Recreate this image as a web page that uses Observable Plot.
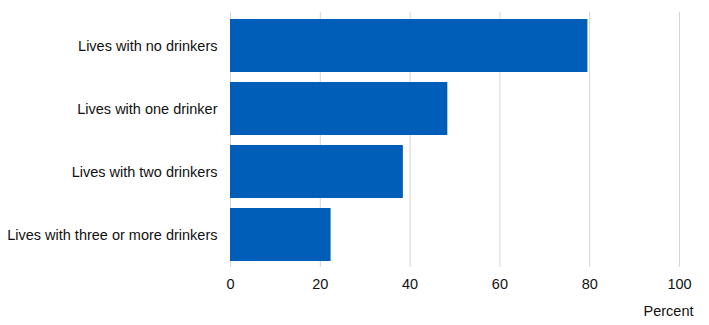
<!DOCTYPE html>
<html>
<head>
<meta charset="utf-8">
<script src="https://cdn.jsdelivr.net/npm/d3@7"></script>
<script src="https://cdn.jsdelivr.net/npm/@observablehq/plot@0.6"></script>
<style>
  html, body { margin: 0; padding: 0; background: #fff; }
  #chart svg { display: block; }
</style>
</head>
<body>
<div id="chart"></div>
<script>
const categories = [
  "Lives with no drinkers",
  "Lives with one drinker",
  "Lives with two drinkers",
  "Lives with three or more drinkers"
];
const values = [79.6, 48.4, 38.5, 22.4];
const xTicks = [0, 20, 40, 60, 80, 100];
const axisLabel = ["Percent"];

const data = categories.map((c, i) => ({category: c, value: values[i]}));

const chart = Plot.plot({
  width: 709,
  height: 325,
  marginLeft: 230,
  marginRight: 30,
  marginTop: 8,
  marginBottom: 54,
  style: {fontFamily: "'Liberation Sans', Arial, sans-serif", fontSize: "14.5px", color: "#111", background: "#fff"},
  x: {domain: [0, 100], ticks: xTicks, label: null},
  y: {domain: categories, padding: 0.165, label: null},
  marks: [
    Plot.gridX(xTicks, {stroke: "#d4d4d4", strokeOpacity: 1, strokeWidth: 1, insetTop: 4, insetBottom: 4}),
    Plot.barX(data, {x: "value", y: "category", fill: "#005EB8"}),
    Plot.axisX({ticks: xTicks, tickSize: 0, tickPadding: 7, label: null, fontSize: "14.5px"}),
    Plot.axisY({tickSize: 0, tickPadding: 13, label: null, fontSize: "14.5px"}),
    Plot.text(axisLabel, {frameAnchor: "bottom-right", textAnchor: "end", lineAnchor: "middle", dx: 14, dy: 40, fontSize: "14.5px", fill: "#111"})
  ]
});
document.getElementById("chart").appendChild(chart);
</script>
</body>
</html>
